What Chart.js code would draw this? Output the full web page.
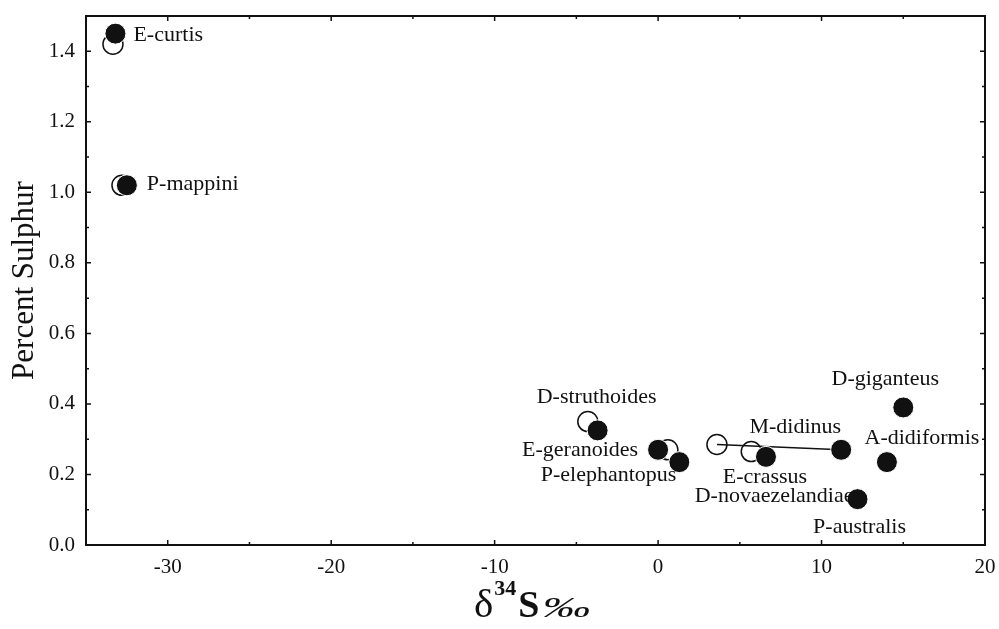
<!DOCTYPE html>
<html>
<head>
<meta charset="utf-8">
<script src="https://cdn.jsdelivr.net/npm/chart.js"></script>
<style>
  body { margin: 0; background: #fff; }
  #wrap { width: 999px; height: 629px; position: relative; }
</style>
</head>
<body>
<div id="wrap"><canvas id="chart"></canvas></div>
<script>
// open circles
let openX = [-33.35, -32.8, -4.3, 0.6, 3.6, 5.7];
let openY = [1.42, 1.02, 0.35, 0.27, 0.285, 0.265];
// filled circles
let filledX = [-33.2, -32.5, -3.7, 0.0, 1.3, 6.6, 11.2, 12.2, 14.0, 15.0];
let filledY = [1.45, 1.02, 0.325, 0.27, 0.235, 0.25, 0.27, 0.13, 0.235, 0.39];
// M-didinus connecting line
let linkX = [3.6, 11.2];
let linkY = [0.285, 0.27];
// species names and the filled point each one belongs to
let speciesNames = ["E-curtis", "P-mappini", "D-struthoides", "E-geranoides", "P-elephantopus",
  "E-crassus", "M-didinus", "D-novaezelandiae", "P-australis", "A-didiformis", "D-giganteus"];
let speciesPoint = [0, 1, 2, 3, 4, 5, 6, 7, 7, 8, 9];
let xTicks = [-30, -20, -10, 0, 10, 20];
let yTicks = [0.0, 0.2, 0.4, 0.6, 0.8, 1.0, 1.2, 1.4];

// label placement: [align, dx, dy] in px from the point
let labelPlace = [
  ["left", 18, 2], ["left", 20, -1], ["center", -1, -33], ["right", -20, 0], ["right", -3, 13],
  ["center", -1, 20], ["right", 0, -23], ["right", -4, -3], ["center", 2, 28], ["center", 35, -24], ["center", -18, -28]
];

const SERIF = "'Liberation Serif', 'DejaVu Serif', serif";
const INK = "#111";

function toPts(xs, ys){
  let out = [];
  for(let i = 0; i < xs.length; i++){
    out.push({x: xs[i], y: ys[i]});
  }
  return out;
}

// frame with inward ticks, species labels and the x title
const decorPlugin = {
  id: "decor",
  beforeDatasetsDraw(chart){
    let ctx = chart.ctx;
    let a = chart.chartArea;
    let sx = chart.scales.x, sy = chart.scales.y;
    ctx.save();
    ctx.strokeStyle = INK;
    ctx.lineWidth = 2;
    ctx.strokeRect(a.left, a.top, a.right - a.left, a.bottom - a.top);
    ctx.lineWidth = 1.5;
    for(let v = -35; v <= 20; v += 5){
      let px = sx.getPixelForValue(v);
      let len = (v % 10 == 0) ? 5 : 3;
      ctx.beginPath();
      ctx.moveTo(px, a.bottom); ctx.lineTo(px, a.bottom - len);
      ctx.moveTo(px, a.top); ctx.lineTo(px, a.top + len);
      ctx.stroke();
    }
    for(let k = 0; k <= 15; k++){
      let py = sy.getPixelForValue(k / 10);
      let len = (k % 2 == 0) ? 5 : 3;
      ctx.beginPath();
      ctx.moveTo(a.left, py); ctx.lineTo(a.left + len, py);
      ctx.moveTo(a.right, py); ctx.lineTo(a.right - len, py);
      ctx.stroke();
    }
    ctx.restore();
  },
  afterDraw(chart){
    let ctx = chart.ctx;
    let sx = chart.scales.x, sy = chart.scales.y;
    ctx.save();
    ctx.fillStyle = INK;
    ctx.font = "22px " + SERIF;
    ctx.textBaseline = "middle";
    for(let i = 0; i < speciesNames.length; i++){
      let p = speciesPoint[i];
      let px = sx.getPixelForValue(filledX[p]);
      let py = sy.getPixelForValue(filledY[p]);
      ctx.textAlign = labelPlace[i][0];
      ctx.fillText(speciesNames[i], px + labelPlace[i][1], py + labelPlace[i][2]);
    }
    // x title: delta 34 S permil
    ctx.textAlign = "left";
    ctx.textBaseline = "alphabetic";
    let x = 474, base = 617;
    ctx.font = "41px " + SERIF;
    ctx.fillText("δ", x, base);
    x += ctx.measureText("δ").width + 1;
    ctx.font = "bold 22px " + SERIF;
    ctx.fillText("34", x, base - 22);
    x += ctx.measureText("34").width + 2;
    ctx.font = "bold 38px " + SERIF;
    ctx.fillText("S", x, base);
    x += ctx.measureText("S").width + 3;
    ctx.font = "italic 30px " + SERIF;
    ctx.translate(x, base);
    ctx.scale(1.6, 1);
    ctx.fillText("‰", 0, 0);
    ctx.restore();
  }
};

let ctx = document.getElementById("chart").getContext("2d");
let chart = new Chart(ctx, {
  type: "scatter",
  data: {
    datasets: [{
      label: "filled",
      data: toPts(filledX, filledY),
      backgroundColor: "#111",
      borderColor: "#fff",
      borderWidth: 1,
      pointRadius: 10.5,
      order: 1
    }, {
      label: "link",
      data: toPts(linkX, linkY),
      showLine: true,
      borderColor: "#111",
      borderWidth: 1.5,
      pointRadius: 0,
      order: 2
    }, {
      label: "open",
      data: toPts(openX, openY),
      backgroundColor: "#fff",
      borderColor: "#111",
      borderWidth: 1.5,
      pointRadius: 10,
      order: 3
    }]
  },
  options: {
    responsive: true,
    maintainAspectRatio: false,
    animation: false,
    layout: { padding: { top: 16, right: 14, left: 0, bottom: 0 } },
    plugins: {
      legend: { display: false },
      tooltip: { enabled: false }
    },
    scales: {
      x: {
        type: "linear",
        min: -35,
        max: 20,
        grid: { display: false, drawTicks: false },
        border: { display: false },
        afterBuildTicks: function(scale){ scale.ticks = xTicks.map(v => ({value: v})); },
        afterFit: function(scale){
          scale.height = 84;
          scale.paddingLeft = 0; scale.paddingRight = 0;
        },
        ticks: {
          padding: 10,
          color: INK,
          font: { family: SERIF, size: 21 },
          callback: function(v){ return String(v); }
        }
      },
      y: {
        type: "linear",
        min: 0,
        max: 1.5,
        grid: { display: false, drawTicks: false },
        border: { display: false },
        afterBuildTicks: function(scale){ scale.ticks = yTicks.map(v => ({value: v})); },
        afterFit: function(scale){
          scale.width = 86;
          scale.paddingTop = 0; scale.paddingBottom = 0;
        },
        title: {
          display: true,
          text: "Percent Sulphur",
          color: INK,
          font: { family: SERIF, size: 31 },
          padding: { top: 6, bottom: 0 }
        },
        ticks: {
          padding: 11,
          color: INK,
          font: { family: SERIF, size: 21 },
          callback: function(v){ return Number(v).toFixed(1); }
        }
      }
    }
  },
  plugins: [decorPlugin]
});
</script>
</body>
</html>
